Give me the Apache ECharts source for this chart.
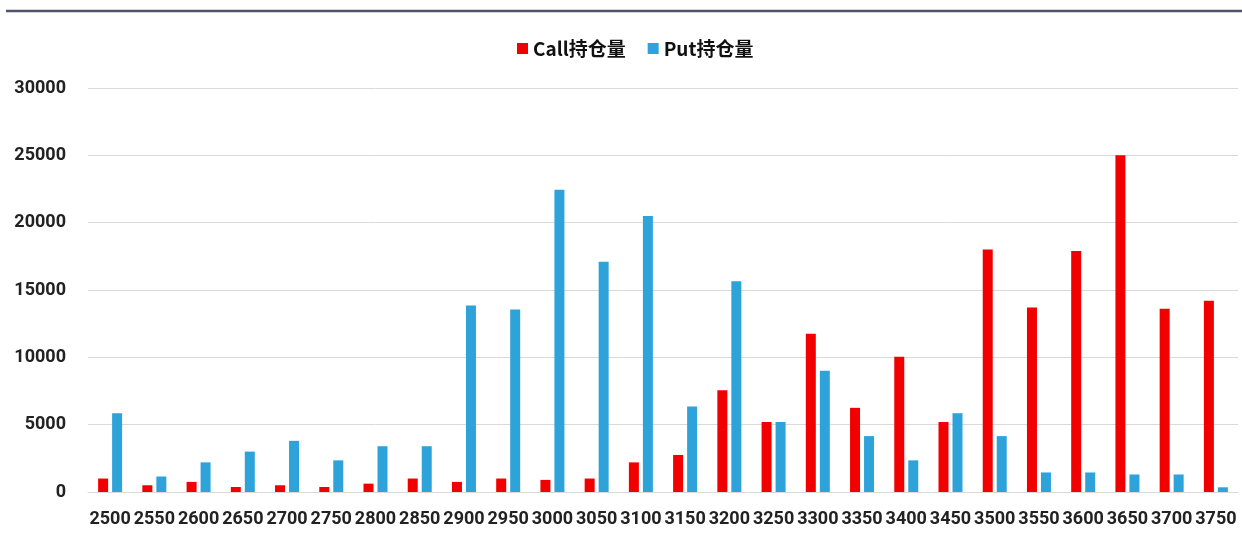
<!DOCTYPE html>
<html>
<head>
<meta charset="utf-8">
<script src="https://cdn.jsdelivr.net/npm/echarts@6/dist/echarts.min.js"></script>
<style>
html,body{margin:0;padding:0;background:#fff;}
#chart{width:1242px;height:541px;}
</style>
</head>
<body>
<div id="chart"></div>
<script>
const categories = ['2500','2550','2600','2650','2700','2750','2800','2850','2900','2950','3000','3050','3100','3150','3200','3250','3300','3350','3400','3450','3500','3550','3600','3650','3700','3750'];
const callOI = [1000,500,750,370,500,370,620,1000,750,1000,900,1000,2200,2750,7550,5200,11750,6250,10050,5200,18000,13700,17900,25000,13600,14200];
const putOI  = [5850,1150,2200,3000,3800,2350,3400,3400,13850,13550,22450,17100,20500,6350,15650,5200,9000,4150,2350,5850,4150,1450,1450,1300,1300,350];
const yTicks = {min:0, max:30000, interval:5000};
const seriesNames = ['Call持仓量','Put持仓量'];

const chart = echarts.init(document.getElementById('chart'));
chart.setOption({
  animation:false,
  backgroundColor:'#ffffff',
  graphic:[
    {type:'line', shape:{x1:6,y1:11,x2:1242,y2:11}, style:{stroke:'#4f546c',lineWidth:2.5}, silent:true}
  ],
  legend:{
    data:seriesNames,
    top:34,
    left:512,
    icon:'rect',
    itemWidth:11,
    itemHeight:11,
    itemGap:22,
    textStyle:{fontFamily:'"Noto Sans CJK SC", sans-serif', fontSize:19, fontWeight:'bold', color:'#111'}
  },
  grid:{left:88, right:4, top:88, bottom:49, containLabel:false},
  xAxis:{
    type:'category',
    data:categories,
    axisTick:{show:false},
    axisLine:{lineStyle:{color:'#d9d9d9',width:1}},
    axisLabel:{interval:0, margin:18, fontFamily:'Roboto, sans-serif', fontSize:18, fontWeight:'bold', color:'#222'}
  },
  yAxis:{
    type:'value',
    min:yTicks.min, max:yTicks.max, interval:yTicks.interval,
    axisLine:{show:false},
    axisTick:{show:false},
    splitLine:{lineStyle:{color:'#d9d9d9',width:1}},
    axisLabel:{margin:22, formatter:function(v){return String(v);}, fontFamily:'Roboto, sans-serif', fontSize:18, fontWeight:'bold', color:'#222'}
  },
  series:[
    {name:seriesNames[0], type:'bar', data:callOI, barWidth:10, barGap:'40%', itemStyle:{color:'#f20000'}},
    {name:seriesNames[1], type:'bar', data:putOI, barWidth:10, barGap:'40%', itemStyle:{color:'#2ea3da'}}
  ]
});
</script>
</body>
</html>
